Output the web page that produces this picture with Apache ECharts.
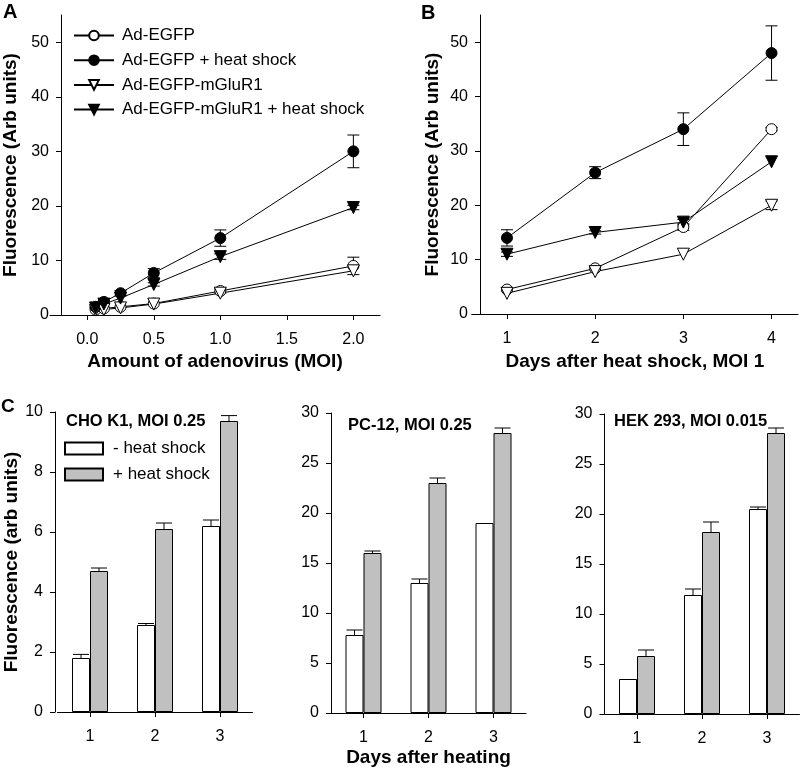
<!DOCTYPE html>
<html>
<head>
<meta charset="utf-8">
<script src="https://cdn.jsdelivr.net/npm/echarts@6/dist/echarts.min.js"></script>
<style>
html,body{margin:0;padding:0;background:#fff;}
#chart{width:800px;height:769px;}
</style>
</head>
<body>
<div id="chart"></div>
<script>
// ---------- DATA ----------
// Panel A: fluorescence vs MOI
const moiA = [0.0625, 0.125, 0.25, 0.5, 1.0, 2.0];
const aEGFP = [1.0, 1.2, 1.5, 2.1, 4.4, 9.0];
const aEGFPErr = [0, 0, 0, 0, 0.4, 1.6];
const aEGFPHeat = [1.5, 2.4, 4.0, 7.7, 14.1, 30.0];
const aEGFPHeatErr = [0.2, 0.3, 0.5, 0.8, 1.5, 3.0];
const aMGluR1 = [0.9, 1.0, 1.3, 2.0, 4.0, 8.1];
const aMGluR1Err = [0, 0, 0, 0, 0, 0];
const aMGluR1Heat = [1.3, 2.0, 3.1, 5.6, 10.7, 19.7];
const aMGluR1HeatErr = [0, 0, 0, 0.3, 0.5, 0.4];
const xTicksA = [0, 0.5, 1.0, 1.5, 2.0];
const yTicksAB = [0, 10, 20, 30, 40, 50];

// Panel B: fluorescence vs days after heat shock, MOI 1
const daysB = [1, 2, 3, 4];
const bEGFP = [4.5, 8.4, 16.0, 34.0];
const bEGFPErr = [0.3, 0.3, 0.6, 0.3];
const bEGFPHeat = [14.0, 26.0, 34.0, 48.0];
const bEGFPHeatErr = [1.5, 1.1, 3.0, 5.0];
const bMGluR1 = [3.8, 7.8, 11.0, 20.0];
const bMGluR1Err = [0, 0, 0, 0.8];
const bMGluR1Heat = [11.0, 15.0, 16.9, 28.0];
const bMGluR1HeatErr = [0.4, 0.3, 0.5, 0];
const xTicksB = [1, 2, 3, 4];

// Panel C: bars (days after heating)
const daysC = ['1', '2', '3'];
const choMinus = [1.8, 2.9, 6.2];
const choMinusErr = [0.12, 0.05, 0.2];
const choPlus = [4.7, 6.1, 9.7];
const choPlusErr = [0.1, 0.2, 0.18];
const pcMinus = [7.8, 13.0, 19.0];
const pcMinusErr = [0.5, 0.4, 0];
const pcPlus = [16.0, 23.0, 28.0];
const pcPlusErr = [0.2, 0.5, 0.5];
const hekMinus = [3.5, 11.9, 20.5];
const hekMinusErr = [0, 0.6, 0.2];
const hekPlus = [5.8, 18.2, 28.1];
const hekPlusErr = [0.6, 1.0, 0.5];

const seriesNamesAB = ['Ad-EGFP', 'Ad-EGFP + heat shock', 'Ad-EGFP-mGluR1', 'Ad-EGFP-mGluR1 + heat shock'];
const barNames = ['- heat shock', '+ heat shock'];

// ---------- STYLE ----------
const FONT = 'Arial, "Liberation Sans", Helvetica, sans-serif';
const BLACK = '#000';
const GRAY = '#c0c0c0';
const BAR_W = 18;

const markerDefs = [
  {symbol: 'circle', fill: '#fff', rotate: 0, size: 11},
  {symbol: 'circle', fill: '#000', rotate: 0, size: 11},
  {symbol: 'triangle', fill: '#fff', rotate: 180, size: 12},
  {symbol: 'triangle', fill: '#000', rotate: 180, size: 12}
];

function pairs(xs, ys) { return xs.map((x, i) => [x, ys[i]]); }
function triples(xs, ys, es) { return xs.map((x, i) => [x, ys[i], es[i]]); }

function lineSeries(name, idx, xs, ys, axisIdx) {
  const m = markerDefs[idx];
  return {
    type: 'line', name: name, xAxisIndex: axisIdx, yAxisIndex: axisIdx,
    data: pairs(xs, ys), symbol: m.symbol, symbolSize: m.size, symbolRotate: m.rotate,
    showSymbol: true, z: 5,
    lineStyle: {color: BLACK, width: 1},
    itemStyle: {color: m.fill, borderColor: BLACK, borderWidth: 1},
    emphasis: {disabled: true}, animation: false
  };
}

function errSeries(xs, ys, es, axisIdx) {
  return {
    type: 'custom', xAxisIndex: axisIdx, yAxisIndex: axisIdx, z: 3,
    data: triples(xs, ys, es), encode: {x: 0, y: 1}, silent: true, animation: false,
    renderItem: function (params, api) {
      const x = api.value(0), y = api.value(1), e = api.value(2);
      if (!e) return null;
      const t = api.coord([x, y + e]);
      const b = api.coord([x, y - e]);
      const hw = 6;
      const st = {stroke: BLACK, lineWidth: 1};
      return {type: 'group', children: [
        {type: 'line', shape: {x1: t[0], y1: t[1], x2: b[0], y2: b[1]}, style: st},
        {type: 'line', shape: {x1: t[0] - hw, y1: t[1], x2: t[0] + hw, y2: t[1]}, style: st},
        {type: 'line', shape: {x1: b[0] - hw, y1: b[1], x2: b[0] + hw, y2: b[1]}, style: st}
      ]};
    }
  };
}

function barSeries(name, vals, axisIdx, color) {
  return {
    type: 'bar', name: name, xAxisIndex: axisIdx, yAxisIndex: axisIdx,
    data: vals, barWidth: BAR_W, barGap: '0%', z: 2,
    itemStyle: {color: color, borderColor: BLACK, borderWidth: 1},
    emphasis: {disabled: true}, animation: false
  };
}

function barErrSeries(vals, errs, axisIdx, side) {
  return {
    type: 'custom', xAxisIndex: axisIdx, yAxisIndex: axisIdx, z: 4,
    data: vals.map((v, i) => [i, v, errs[i]]), encode: {x: 0, y: 1}, silent: true, animation: false,
    renderItem: function (params, api) {
      const i = api.value(0), v = api.value(1), e = api.value(2);
      if (!e) return null;
      const b = api.coord([i, v]);
      const t = api.coord([i, v + e]);
      const dx = side * BAR_W / 2;
      const hw = 8;
      const st = {stroke: BLACK, lineWidth: 1};
      return {type: 'group', children: [
        {type: 'line', shape: {x1: b[0] + dx, y1: b[1], x2: t[0] + dx, y2: t[1]}, style: st},
        {type: 'line', shape: {x1: t[0] + dx - hw, y1: t[1], x2: t[0] + dx + hw, y2: t[1]}, style: st}
      ]};
    }
  };
}

const axisLineStyle = {show: true, lineStyle: {color: BLACK, width: 1}};
const tickStyle = {show: true, inside: false, length: 5, lineStyle: {color: BLACK, width: 1}};
const labelStyle = {color: BLACK, fontFamily: FONT, fontSize: 16};
const nameStyle = {color: BLACK, fontFamily: FONT, fontSize: 19, fontWeight: 'bold'};

function valueXAxis(gridIdx, min, max, ticks, fmt, name, gap) {
  return {
    type: 'value', gridIndex: gridIdx, min: min, max: max,
    axisLine: Object.assign({onZero: false}, axisLineStyle),
    axisTick: Object.assign({customValues: ticks}, tickStyle),
    axisLabel: Object.assign({customValues: ticks, margin: 17, formatter: fmt}, labelStyle),
    splitLine: {show: false},
    name: name, nameLocation: 'middle', nameGap: gap, nameTextStyle: nameStyle
  };
}
function valueYAxis(gridIdx, min, max, ticks, name, gap, offset) {
  return {
    type: 'value', gridIndex: gridIdx, min: min, max: max, offset: offset,
    axisLine: Object.assign({onZero: false}, axisLineStyle),
    axisTick: Object.assign({customValues: ticks}, tickStyle),
    axisLabel: Object.assign({customValues: ticks, margin: 12}, labelStyle),
    splitLine: {show: false},
    name: name, nameLocation: 'middle', nameGap: gap, nameTextStyle: nameStyle
  };
}
function catXAxis(gridIdx, name, gap) {
  return {
    type: 'category', gridIndex: gridIdx, data: daysC,
    axisLine: Object.assign({onZero: false}, axisLineStyle),
    axisTick: Object.assign({alignWithLabel: true}, tickStyle),
    axisLabel: Object.assign({margin: 17}, labelStyle),
    name: name, nameLocation: 'middle', nameGap: gap, nameTextStyle: nameStyle
  };
}
function barYAxis(gridIdx, max, interval, name, gap, offset) {
  return {
    type: 'value', gridIndex: gridIdx, min: 0, max: max, interval: interval, offset: offset,
    axisLine: Object.assign({onZero: false}, axisLineStyle),
    axisTick: tickStyle,
    axisLabel: Object.assign({margin: 12}, labelStyle),
    splitLine: {show: false},
    name: name, nameLocation: 'middle', nameGap: gap, nameTextStyle: nameStyle
  };
}

const chart = echarts.init(document.getElementById('chart'), null, {renderer: 'canvas'});

const option = {
  backgroundColor: '#fff',
  animation: false,
  textStyle: {fontFamily: FONT},
  title: [
    {text: 'A', left: 3, top: 2, padding: 0, textStyle: {fontSize: 20, fontWeight: 'bold', color: BLACK, fontFamily: FONT}},
    {text: 'B', left: 421, top: 3, padding: 0, textStyle: {fontSize: 20, fontWeight: 'bold', color: BLACK, fontFamily: FONT}},
    {text: 'C', left: 1, top: 397, padding: 0, textStyle: {fontSize: 19, fontWeight: 'bold', color: BLACK, fontFamily: FONT}},
    {text: 'CHO K1, MOI 0.25', left: 66, top: 413, padding: 0, textStyle: {fontSize: 16.5, fontWeight: 'bold', color: BLACK, fontFamily: FONT}},
    {text: 'PC-12, MOI 0.25', left: 348, top: 417, padding: 0, textStyle: {fontSize: 16.5, fontWeight: 'bold', color: BLACK, fontFamily: FONT}},
    {text: 'HEK 293, MOI 0.015', left: 614, top: 413, padding: 0, textStyle: {fontSize: 16.5, fontWeight: 'bold', color: BLACK, fontFamily: FONT}}
  ],
  legend: [
    {
      data: seriesNamesAB, orient: 'vertical', left: 73, top: 27, padding: 0,
      itemWidth: 40, itemHeight: 12, itemGap: 7.7, symbolRotate: 'inherit',
      textStyle: {fontSize: 17, color: BLACK, fontFamily: FONT, lineHeight: 14, padding: [0, 0, 0, 3]},
      selectedMode: false
    },
    {
      data: barNames, orient: 'vertical', left: 64, top: 440, padding: 0,
      icon: 'rect', itemWidth: 38, itemHeight: 12, itemGap: 9,
      textStyle: {fontSize: 17, color: BLACK, fontFamily: FONT, lineHeight: 12, padding: [0, 0, 0, 5]},
      selectedMode: false
    }
  ],
  grid: [
    {left: 50, top: 15, width: 330, height: 300},
    {left: 471.7, top: 15, width: 326.3, height: 299},
    {left: 57.5, top: 412, width: 195, height: 300},
    {left: 331, top: 413, width: 195, height: 300},
    {left: 604.5, top: 414, width: 195, height: 300}
  ],
  xAxis: [
    valueXAxis(0, -0.28, 2.2, xTicksA, v => v.toFixed(1), 'Amount of adenovirus (MOI)', 37),
    valueXAxis(1, 0.6, 4.3, xTicksB, v => String(v), 'Days after heat shock, MOI 1', 38),
    catXAxis(2, '', 30),
    catXAxis(3, 'Days after heating', 35),
    catXAxis(4, '', 30)
  ],
  yAxis: [
    valueYAxis(0, 0, 55, yTicksAB, 'Fluorescence (Arb units)', 41, -11),
    valueYAxis(1, 0, 55, yTicksAB, 'Fluorescence (Arb units)', 38, -8.3),
    barYAxis(2, 10, 2, 'Fluorescence (arb units)', 33, 2.5),
    barYAxis(3, 30, 5, '', 30, 0),
    barYAxis(4, 30, 5, '', 30, 0)
  ],
  series: [
    errSeries(moiA, aEGFP, aEGFPErr, 0),
    errSeries(moiA, aEGFPHeat, aEGFPHeatErr, 0),
    errSeries(moiA, aMGluR1, aMGluR1Err, 0),
    errSeries(moiA, aMGluR1Heat, aMGluR1HeatErr, 0),
    lineSeries(seriesNamesAB[0], 0, moiA, aEGFP, 0),
    lineSeries(seriesNamesAB[1], 1, moiA, aEGFPHeat, 0),
    lineSeries(seriesNamesAB[2], 2, moiA, aMGluR1, 0),
    lineSeries(seriesNamesAB[3], 3, moiA, aMGluR1Heat, 0),

    errSeries(daysB, bEGFP, bEGFPErr, 1),
    errSeries(daysB, bEGFPHeat, bEGFPHeatErr, 1),
    errSeries(daysB, bMGluR1, bMGluR1Err, 1),
    errSeries(daysB, bMGluR1Heat, bMGluR1HeatErr, 1),
    lineSeries(seriesNamesAB[0], 0, daysB, bEGFP, 1),
    lineSeries(seriesNamesAB[1], 1, daysB, bEGFPHeat, 1),
    lineSeries(seriesNamesAB[2], 2, daysB, bMGluR1, 1),
    lineSeries(seriesNamesAB[3], 3, daysB, bMGluR1Heat, 1),

    barSeries(barNames[0], choMinus, 2, '#fff'),
    barSeries(barNames[1], choPlus, 2, GRAY),
    barErrSeries(choMinus, choMinusErr, 2, -1),
    barErrSeries(choPlus, choPlusErr, 2, 1),

    barSeries(barNames[0], pcMinus, 3, '#fff'),
    barSeries(barNames[1], pcPlus, 3, GRAY),
    barErrSeries(pcMinus, pcMinusErr, 3, -1),
    barErrSeries(pcPlus, pcPlusErr, 3, 1),

    barSeries(barNames[0], hekMinus, 4, '#fff'),
    barSeries(barNames[1], hekPlus, 4, GRAY),
    barErrSeries(hekMinus, hekMinusErr, 4, -1),
    barErrSeries(hekPlus, hekPlusErr, 4, 1)
  ]
};
chart.setOption(option);
</script>
</body>
</html>
